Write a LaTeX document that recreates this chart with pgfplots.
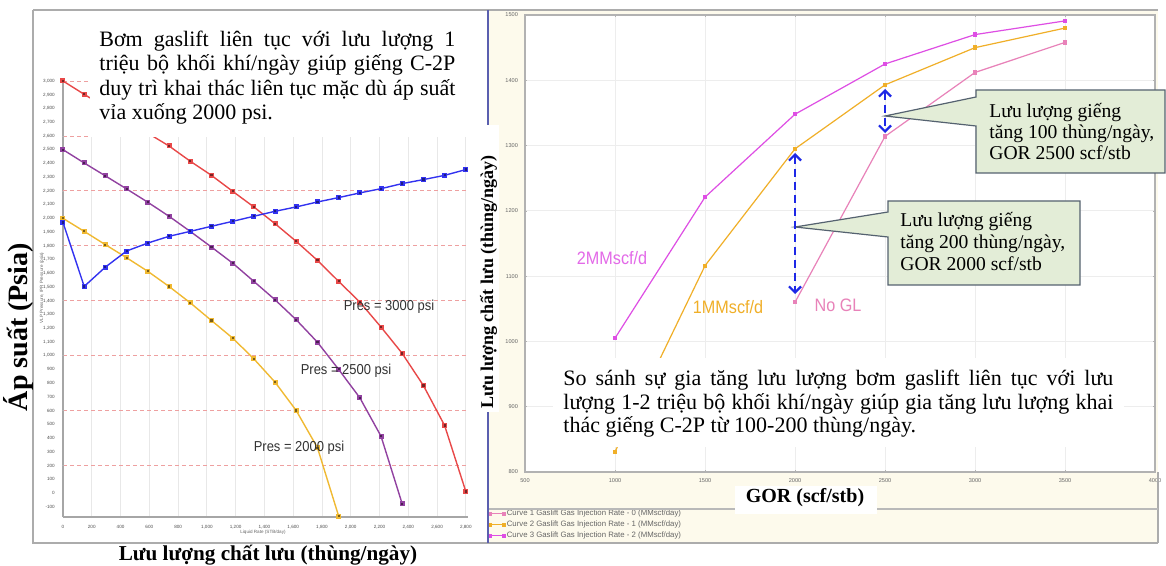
\documentclass[border=0pt]{standalone}
\usepackage{pgfplots}
\pgfplotsset{compat=1.18}
\usepackage{graphicx}
\usepackage{fontspec}
\setmainfont{Liberation Serif}
\newfontfamily\arial{Liberation Sans}
\usetikzlibrary{arrows.meta}
\definecolor{lred}{RGB}{232,72,72}
\definecolor{lpurple}{RGB}{145,65,160}
\definecolor{lyellow}{RGB}{240,185,50}
\definecolor{lblue}{RGB}{50,50,240}
\definecolor{gridred}{RGB}{238,160,160}
\definecolor{cthree}{RGB}{222,78,228}
\definecolor{ctwo}{RGB}{240,175,40}
\definecolor{cone}{RGB}{232,130,185}
\definecolor{callfill}{RGB}{227,237,215}
\definecolor{callborder}{RGB}{85,98,112}
\definecolor{beige}{RGB}{253,250,236}
\definecolor{arrowblue}{RGB}{30,40,230}
\definecolor{panelblue}{RGB}{90,95,175}
\begin{document}
\begin{tikzpicture}[x=0.5pt,y=-0.5pt]
\path[use as bounding box] (0,0) rectangle (1166,566);
% right panel background
\fill[beige] (487,10) rectangle (1158,543);
% ---------------- LEFT CHART ----------------
\begin{axis}[at={(31.5pt,-258.5pt)}, anchor=south west, scale only axis,
  width=202.5pt, height=218pt,
  xmin=0, xmax=2815, ymin=-175, ymax=3000,
  axis lines=left, axis line style={-, draw=gray!70, line width=0.6pt},
  xtick={0,200,...,2800}, ytick={-100,0,...,3000},
  xmajorgrids, major grid style={gray!18, line width=0.4pt},
  extra y ticks={200,600,...,3000}, extra y tick labels={},
  extra y tick style={grid=major, major grid style={gridred, dash pattern=on 2pt off 1.5pt, line width=0.4pt}},
  tick style={draw=gray!60, line width=0.3pt}, major tick length=1.2pt,
  tick label style={font=\arial\fontsize{2.3}{2.5}\selectfont, text=black!70},
  /pgf/number format/1000 sep={,}, /pgf/number format/assume math mode=true,
  clip=false]
\addplot[lred, line width=0.7pt, mark=square*, mark size=0.9pt, mark options={fill=lred!50!black, draw=none}] coordinates {
(0,3000) (147.4,2903) (294.7,2808) (442.1,2714) (589.5,2620) (736.8,2527) (884.2,2416) (1031.6,2313) (1178.9,2197) (1326.3,2083) (1473.7,1961) (1621.1,1832) (1768.4,1694) (1915.8,1541) (2063.2,1390) (2210.5,1208) (2357.9,1016) (2505.3,782) (2652.6,491) (2800,10)};
\addplot[lpurple, line width=0.7pt, mark=square*, mark size=0.9pt, mark options={fill=lpurple!50!black, draw=none}] coordinates {
(0,2500) (147.4,2403) (294.7,2309) (442.1,2214) (589.5,2117) (736.8,2015) (884.2,1905) (1031.6,1791) (1178.9,1674) (1326.3,1541) (1473.7,1407) (1621.1,1261) (1768.4,1098) (1915.8,900) (2063.2,693) (2210.5,413) (2357.9,-80)};
\addplot[lyellow, line width=0.7pt, mark=square*, mark size=0.9pt, mark options={fill=lyellow!50!black, draw=none}] coordinates {
(0,2000) (147.4,1905) (294.7,1808) (442.1,1713) (589.5,1614) (736.8,1504) (884.2,1385) (1031.6,1256) (1178.9,1128) (1326.3,977) (1473.7,807) (1621.1,600) (1768.4,330) (1915.8,-168)};
\addplot[lblue, line width=0.7pt, mark=square*, mark size=0.9pt, mark options={fill=lblue!55!black, draw=none}] coordinates {
(0,1970) (147.4,1504) (294.7,1645) (442.1,1762) (589.5,1820) (736.8,1869) (884.2,1905) (1031.6,1942) (1178.9,1978) (1326.3,2015) (1473.7,2051) (1621.1,2083) (1768.4,2119) (1915.8,2151) (2063.2,2185) (2210.5,2216) (2357.9,2253) (2505.3,2282) (2652.6,2313) (2800,2355)};
\end{axis}
% tiny axis titles of left chart
\node[font=\arial\fontsize{2.3}{2.5}\selectfont, text=black!60] at (263,532) {Liquid Rate (STB/day)};
\node[rotate=90, font=\arial\fontsize{2.3}{2.5}\selectfont, text=black!60] at (42,288) {VLP Pressure, IPR Pressure (psia)};
% Pres labels
\node[font=\arial\fontsize{7.2}{8}\selectfont, text=black!80] at (389,307) {\scalebox{0.9}[1]{Pres = 3000 psi}};
\node[font=\arial\fontsize{7.2}{8}\selectfont, text=black!80] at (346,371) {\scalebox{0.9}[1]{Pres = 2500 psi}};
\node[font=\arial\fontsize{7.2}{8}\selectfont, text=black!80] at (299,448) {\scalebox{0.9}[1]{Pres = 2000 psi}};
% left text box
\fill[white] (90,12) rectangle (472,137.5);
\begin{scope}[every node/.style={anchor=base west, inner sep=0pt, font=\fontsize{11}{12}\selectfont}]
\node at (99,46.7) {\makebox[178pt][s]{Bơm gaslift liên tục với lưu lượng 1}};
\node at (99,70.9) {\makebox[178pt][s]{triệu bộ khối khí/ngày giúp giếng C-2P}};
\node at (99,95.1) {\makebox[178pt][s]{duy trì khai thác liên tục mặc dù áp suất}};
\node at (99,119.3) {vỉa xuống 2000 psi.};
\end{scope}
% left panel frame
\draw[gray!65, line width=1pt] (33,10) -- (487,10);
\draw[gray!65, line width=1pt] (33,10) -- (33,543) -- (487,543);
% left titles
\node[font=\bfseries\fontsize{10.6}{12}\selectfont] at (268,555) {Lưu lượng chất lưu (thùng/ngày)};
\node[rotate=90, font=\bfseries\fontsize{14}{16}\selectfont] at (18.5,327) {Áp suất (Psia)};
% ---------------- RIGHT CHART ----------------
\begin{axis}[at={(262.5pt,-236pt)}, anchor=south west, scale only axis,
  width=315pt, height=228.5pt,
  xmin=500, xmax=4000, ymin=800, ymax=1500,
  axis background/.style={fill=white},
  axis line style={draw=gray!60, line width=0.6pt},
  xtick={500,1000,...,4000}, ytick={800,900,...,1500},
  grid=major, major grid style={gray!14, line width=0.5pt},
  tick style={draw=gray!60, line width=0.3pt}, major tick length=1.2pt,
  tick label style={font=\arial\fontsize{2.8}{3}\selectfont, text=black!60},
  /pgf/number format/1000 sep={}, /pgf/number format/assume math mode=true,
  legend style={at={(axis description cs:-0.059,-0.078)}, anchor=north west, draw=none, fill=none,
    font=\arial\fontsize{3.9}{4.2}\selectfont, text=black!60, row sep=-0.2pt, inner sep=0pt,
    nodes={inner sep=0.7pt}},
  legend cell align=left,
  legend image code/.code={\draw[#1] plot coordinates {(0pt,0pt) (7pt,0pt)};},
  clip=false]
\addplot[cone, line width=0.6pt, mark=square*, mark size=0.8pt] coordinates {(2000,1060) (2500,1314) (3000,1412) (3500,1458)};
\addlegendentry{Curve 1 Gaslift Gas Injection Rate - 0 (MMscf/day)}
\addplot[ctwo, line width=0.6pt, mark=square*, mark size=0.8pt] coordinates {(1000,831) (1500,1116) (2000,1295) (2500,1393) (3000,1450) (3500,1480)};
\addlegendentry{Curve 2 Gaslift Gas Injection Rate - 1 (MMscf/day)}
\addplot[cthree, line width=0.6pt, mark=square*, mark size=0.8pt] coordinates {(1000,1005) (1500,1221) (2000,1348) (2500,1425) (3000,1470) (3500,1491)};
\addlegendentry{Curve 3 Gaslift Gas Injection Rate - 2 (MMscf/day)}
\end{axis}
% right panel borders
\draw[gray!65, line width=1pt] (487,10) -- (1158,10);
\draw[gray!65, line width=1pt] (487,543) -- (1158,543);
\draw[gray!65, line width=0.6pt] (1158,472) -- (1158,543);
\draw[gray!55, line width=0.6pt] (487,509) -- (1158,509);
\draw[panelblue, line width=1pt] (488,10) -- (488,543);
% curve labels
\node[font=\arial\fontsize{9}{10}\selectfont, text=cthree!85] at (612,258) {\scalebox{0.9}[1]{2MMscf/d}};
\node[font=\arial\fontsize{9}{10}\selectfont, text=ctwo] at (728,307) {\scalebox{0.9}[1]{1MMscf/d}};
\node[font=\arial\fontsize{9}{10}\selectfont, text=cone] at (838,305) {\scalebox{0.9}[1]{No GL}};
% callouts
\draw[callborder, fill=callfill, line width=0.6pt] (976,90) -- (1165,90) -- (1165,173) -- (976,173) -- (976,126) -- (885,116) -- (976,97) -- cycle;
\draw[callborder, fill=callfill, line width=0.6pt] (888,201) -- (1080,201) -- (1080,285) -- (888,285) -- (888,237) -- (795,227) -- (888,212) -- cycle;
\begin{scope}[every node/.style={anchor=base west, inner sep=0pt, font=\fontsize{9.8}{10.5}\selectfont}]
\node at (989,118) {Lưu lượng giếng};
\node at (989,139) {tăng 100 thùng/ngày,};
\node at (989,160) {GOR 2500 scf/stb};
\node at (900,227) {Lưu lượng giếng};
\node at (900,249) {tăng 200 thùng/ngày,};
\node at (900,271) {GOR 2000 scf/stb};
\end{scope}
% arrows
\draw[arrowblue, line width=1.1pt, dash pattern=on 4pt off 2.5pt, {Straight Barb[length=3pt,width=6pt]}-{Straight Barb[length=3pt,width=6pt]}] (795,153) -- (795,294);
\draw[arrowblue, line width=1.1pt, dash pattern=on 4pt off 2.5pt, {Straight Barb[length=3pt,width=6pt]}-{Straight Barb[length=3pt,width=6pt]}] (885,89) -- (885,133);
% right text box
\fill[white] (553,358) rectangle (1124,447);
\begin{scope}[every node/.style={anchor=base west, inner sep=0pt, font=\fontsize{11}{12}\selectfont}]
\node at (563,386) {\makebox[275pt][s]{So sánh sự gia tăng lưu lượng bơm gaslift liên tục với lưu}};
\node at (563,409.3) {\makebox[275pt][s]{lượng 1-2 triệu bộ khối khí/ngày giúp gia tăng lưu lượng khai}};
\node at (563,432.7) {thác giếng C-2P từ 100-200 thùng/ngày.};
\end{scope}
% right label boxes
\fill[white] (478,125) rectangle (499,412);
\node[rotate=90, font=\bfseries\fontsize{9}{10}\selectfont] at (488.5,282) {Lưu lượng chất lưu (thùng/ngày)};
\fill[white] (735,486) rectangle (877,514);
\node[font=\bfseries\fontsize{10}{11}\selectfont] at (805,498) {GOR (scf/stb)};
\end{tikzpicture}
\end{document}
